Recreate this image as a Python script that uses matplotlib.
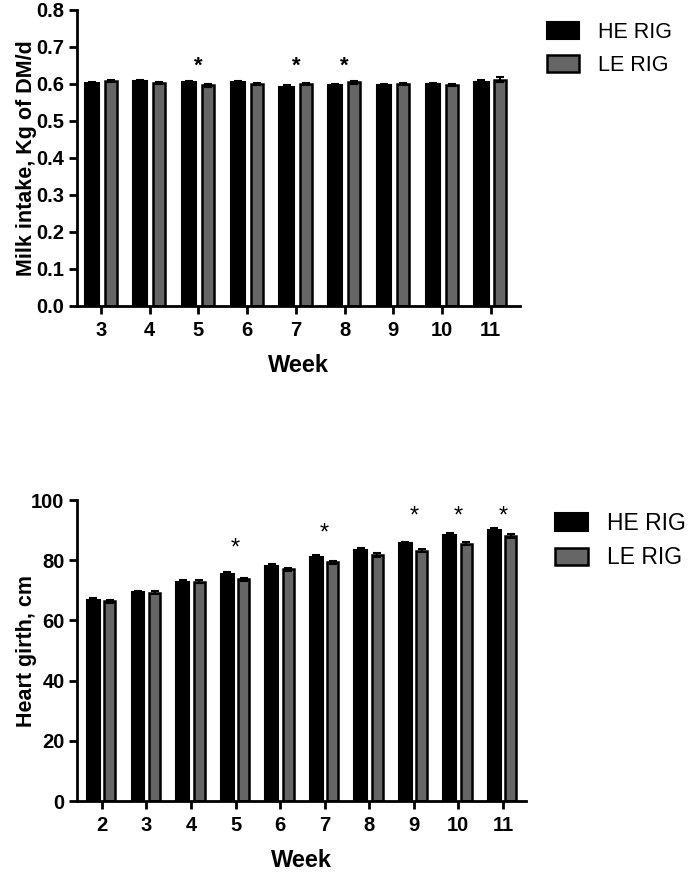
import numpy as np
import matplotlib
matplotlib.use('Agg')
import matplotlib.pyplot as plt

plt.rcParams['font.family'] = ['Liberation Sans', 'DejaVu Sans']

# milk intake, kg DM/d
weeks_top = [3, 4, 5, 6, 7, 8, 9, 10, 11]
he_milk = [0.603, 0.608, 0.606, 0.606, 0.593, 0.598, 0.598, 0.599, 0.606]
le_milk = [0.609, 0.603, 0.596, 0.599, 0.599, 0.604, 0.599, 0.598, 0.612]
he_milk_se = [0.003, 0.003, 0.003, 0.003, 0.003, 0.003, 0.003, 0.003, 0.006]
le_milk_se = [0.003, 0.003, 0.003, 0.003, 0.003, 0.003, 0.003, 0.003, 0.006]
milk_sig = [5, 7, 8]

# heart girth, cm
weeks_bot = [2, 3, 4, 5, 6, 7, 8, 9, 10, 11]
he_girth = [66.8, 69.3, 72.9, 75.5, 78.2, 81.2, 83.5, 85.6, 88.4, 90.2]
le_girth = [66.3, 69.2, 72.8, 73.6, 77.0, 79.3, 81.8, 83.2, 85.5, 88.1]
he_girth_se = [0.5, 0.5, 0.5, 0.5, 0.5, 0.6, 0.6, 0.6, 0.6, 0.6]
le_girth_se = [0.5, 0.5, 0.5, 0.5, 0.5, 0.6, 0.6, 0.6, 0.6, 0.6]
girth_sig = [5, 7, 9, 10, 11]
girth_star_y = [83.8, 88.8, 94.5, 94.5, 94.5]

W, H = 690, 874
fig = plt.figure(figsize=(6.9, 8.74), dpi=100)


def bars(ax, weeks, he, le, he_se, le_se, off_he, off_le, w):
    x = np.array(weeks, dtype=float)
    ax.bar(x + off_he, he, w, color='black', edgecolor='black', lw=1.5,
           yerr=he_se, capsize=3, error_kw=dict(ecolor='black', elinewidth=1.5, capthick=1.5),
           label='HE RIG', zorder=2)
    ax.bar(x + off_le, le, w * 0.85, color='#666666', edgecolor='black', lw=1.8,
           yerr=le_se, capsize=3, error_kw=dict(ecolor='black', elinewidth=1.5, capthick=1.5),
           label='LE RIG', zorder=2)


def style(ax):
    for s in ['top', 'right']:
        ax.spines[s].set_visible(False)
    for s in ['left', 'bottom']:
        ax.spines[s].set_linewidth(2)
    ax.tick_params(direction='out', length=6, width=2, labelsize=14.5)
    ax.tick_params(axis='x', pad=5)
    ax.tick_params(axis='y', pad=3)
    for t in ax.get_xticklabels() + ax.get_yticklabels():
        t.set_fontweight('bold')


# top panel
ax1 = fig.add_axes([0.1116, 0.6499, 0.6420, 0.3387])
bars(ax1, weeks_top, he_milk, le_milk, he_milk_se, le_milk_se, -0.19, 0.2, 0.29)
ax1.set_xlim(2.51, 11.6)
ax1.set_ylim(0, 0.8)
ax1.set_yticks(np.arange(0, 0.81, 0.1))
ax1.set_yticklabels(['%.1f' % v for v in np.arange(0, 0.81, 0.1)])
ax1.set_xticks(weeks_top)
style(ax1)
ax1.set_xlabel('Week', fontsize=17, fontweight='bold', labelpad=10)
ax1.set_ylabel('Milk intake, Kg of DM/d', fontsize=15.5, fontweight='bold')
ax1.yaxis.set_label_coords(-0.09, 0.5)
for wk in milk_sig:
    ax1.text(wk, 0.647, '*', ha='center', va='center', fontsize=16, fontweight='bold')
ax1.legend(loc='upper left', bbox_to_anchor=(547 / W, 1 - 22 / H), bbox_transform=fig.transFigure,
           frameon=False, fontsize=15.5, borderpad=0, borderaxespad=0,
           handlelength=1.5, handleheight=0.8, handletextpad=0.85, labelspacing=0.55)

# bottom panel
ax2 = fig.add_axes([0.1116, 0.0835, 0.6507, 0.3444])
bars(ax2, weeks_bot, he_girth, le_girth, he_girth_se, le_girth_se, -0.19, 0.18, 0.29)
ax2.set_xlim(1.44, 11.52)
ax2.set_ylim(0, 100)
ax2.set_yticks(range(0, 101, 20))
ax2.set_xticks(weeks_bot)
style(ax2)
ax2.set_xlabel('Week', fontsize=17, fontweight='bold', labelpad=10)
ax2.set_ylabel('Heart girth, cm', fontsize=15.5, fontweight='bold')
ax2.yaxis.set_label_coords(-0.09, 0.5)
for wk, yy in zip(girth_sig, girth_star_y):
    ax2.text(wk, yy, '*', ha='center', va='center', fontsize=17)
ax2.legend(loc='upper left', bbox_to_anchor=(555 / W, 1 - 512 / H), bbox_transform=fig.transFigure,
           frameon=False, fontsize=16.5, borderpad=0, borderaxespad=0,
           handlelength=1.45, handleheight=0.8, handletextpad=0.8, labelspacing=0.5)

fig.savefig('out.png', dpi=100)
